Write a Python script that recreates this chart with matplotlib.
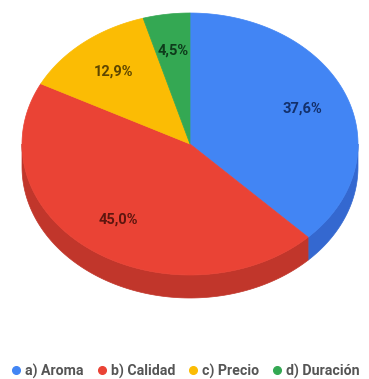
import numpy as np
import matplotlib
matplotlib.use("Agg")
import matplotlib.pyplot as plt
from matplotlib.patches import Polygon
from matplotlib.lines import Line2D

labels = ['a) Aroma', 'b) Calidad', 'c) Precio', 'd) Duración']
values = [37.6, 45.0, 12.9, 4.5]
top_colors = ['#4285f4', '#ea4335', '#fbbc04', '#34a853']
side_colors = ['#3468d0', '#c1362b', '#d19c03', '#2a8a44']
text_colors = ['#13306b', '#5e160f', '#5e4600', '#0e3b1b']

# pie geometry, in pixels
cx, cy = 190, 144
rx, ry = 168, 131
depth = 23


def arc(t0, t1, n=120):
    t = np.radians(np.linspace(t0, t1, n))
    return cx + rx * np.sin(t), cy - ry * np.cos(t)


fig = plt.figure(figsize=(3.69, 3.79), dpi=100)
ax = fig.add_axes([0, 0, 1, 1])
ax.set_xlim(0, 369)
ax.set_ylim(379, 0)
ax.axis('off')

fracs = np.array(values) / sum(values)
bounds = np.concatenate([[0], np.cumsum(fracs) * 360])

# side walls on the front half of the pie
for i in range(len(values)):
    a0 = max(bounds[i], 90)
    a1 = min(bounds[i + 1], 270)
    if a1 <= a0:
        continue
    x, y = arc(a0, a1)
    pts = np.column_stack([np.concatenate([x, x[::-1]]),
                           np.concatenate([y, y[::-1] + depth])])
    ax.add_patch(Polygon(pts, closed=True, facecolor=side_colors[i],
                         edgecolor=side_colors[i], linewidth=0.5))

# top faces
for i in range(len(values)):
    x, y = arc(bounds[i], bounds[i + 1])
    pts = np.column_stack([np.concatenate([[cx], x]), np.concatenate([[cy], y])])
    ax.add_patch(Polygon(pts, closed=True, facecolor=top_colors[i],
                         edgecolor=top_colors[i], linewidth=0.5))

# percentage labels
for i, v in enumerate(values):
    mid = np.radians((bounds[i] + bounds[i + 1]) / 2)
    f = 0.72
    tx = cx + f * rx * np.sin(mid)
    ty = cy - f * ry * np.cos(mid)
    ax.text(tx, ty, f'{v:.1f}%'.replace('.', ','), ha='center', va='center',
            fontsize=10.5, fontweight='bold', family='Roboto', color=text_colors[i])

handles = [Line2D([], [], marker='o', linestyle='', markersize=5.5,
                  markerfacecolor=c, markeredgecolor=c) for c in top_colors]
leg = ax.legend(handles, labels, ncol=4, loc='center',
                bbox_to_anchor=(0.5, 1 - 371 / 379), frameon=False,
                handletextpad=0.15, columnspacing=0.75, handlelength=1.0,
                borderaxespad=0, borderpad=0,
                prop={'family': 'Roboto', 'weight': 'bold', 'size': 10.2})
for t in leg.get_texts():
    t.set_color('#555555')

fig.savefig('out.png', dpi=100)
